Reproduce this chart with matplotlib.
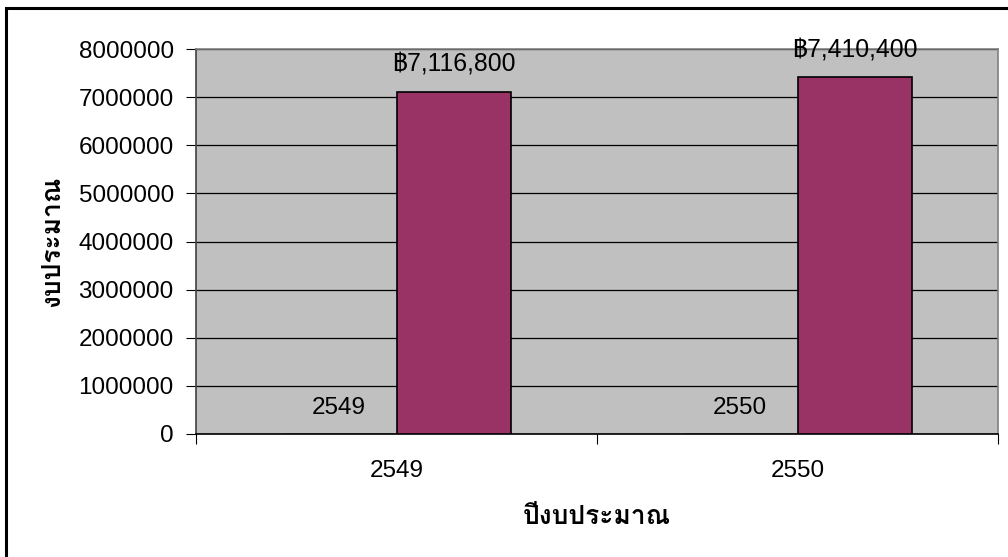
import matplotlib
matplotlib.use("Agg")
import matplotlib.pyplot as plt
from matplotlib import font_manager
from matplotlib.ft2font import FT2Font
from matplotlib.patches import Rectangle
import numpy as np

years = ["2549", "2550"]
year_values = [2549, 2550]
budget = [7116800, 7410400]
yticks = [0, 1000000, 2000000, 3000000, 4000000, 5000000, 6000000, 7000000, 8000000]
xlabel = "ปีงบประมาณ"
ylabel = "งบประมาณ"


def thai_font():
    # look for any installed font that has Thai glyphs
    for f in font_manager.fontManager.ttflist:
        try:
            cmap = FT2Font(f.fname).get_charmap()
        except Exception:
            continue
        if 0x0E07 in cmap and 0x0E13 in cmap:
            return f.name
    return "DejaVu Sans"


thai = thai_font()
plt.rcParams["font.family"] = ["Liberation Sans", thai, "DejaVu Sans"]

fig = plt.figure(figsize=(10.08, 5.57), dpi=100)
ax = fig.add_axes([196 / 1008, 1 - 434 / 557, 802 / 1008, 385 / 557])
ax.set_facecolor("#C0C0C0")

x = np.arange(len(years))
w = 1 / 3.5
ax.bar(x - w / 2, year_values, w, color="#9999FF", edgecolor="black", linewidth=1, zorder=3)
ax.bar(x + w / 2, budget, w, color="#993366", edgecolor="black", linewidth=1.2, zorder=3)

for xi, v in zip(x - w / 2, year_values):
    ax.annotate(str(v), (xi, v), xytext=(0, 18.5), textcoords="offset points",
                ha="center", va="center", fontsize=17.5, zorder=4)
for xi, v in zip(x + w / 2, budget):
    ax.annotate("฿{:,}".format(v), (xi, v), xytext=(0, 19.5), textcoords="offset points",
                ha="center", va="center", fontsize=17.8, zorder=4,
                annotation_clip=False)

ax.set_ylim(0, 8000000)
ax.set_yticks(yticks)
ax.set_yticklabels([str(t) for t in yticks])
ax.yaxis.grid(True, color="black", linewidth=0.9, zorder=1)
ax.set_axisbelow(True)

ax.set_xlim(-0.5, 1.5)
ax.set_xticks([-0.5, 0.5, 1.5])
ax.set_xticklabels(["", "", ""])
ax.set_xticks(x, minor=True)
ax.set_xticklabels(years, minor=True)
ax.tick_params(axis="x", which="major", length=7, direction="out", color="black")
ax.tick_params(axis="x", which="minor", length=0, pad=19, labelsize=17.5)
ax.tick_params(axis="y", length=7, direction="out", pad=9, labelsize=17.5)

ax.spines["top"].set_color("#808080")
ax.spines["right"].set_color("#808080")
ax.spines["left"].set_color("#404040")
ax.spines["bottom"].set_color("black")
for s in ax.spines.values():
    s.set_linewidth(1.2)

ax.set_xlabel(xlabel, fontsize=19, fontweight="bold", labelpad=16)
ax.set_ylabel(ylabel, fontsize=19, fontweight="bold", labelpad=10)

# chart area border (cut off at right and bottom like the original)
fig.patches.append(Rectangle((6 / 1008, -0.2), 1.2, 1.2 + (557 - 8) / 557 - 1.0,
                             transform=fig.transFigure, fill=False,
                             edgecolor="black", linewidth=2.2))

fig.savefig("out.png", dpi=100)
